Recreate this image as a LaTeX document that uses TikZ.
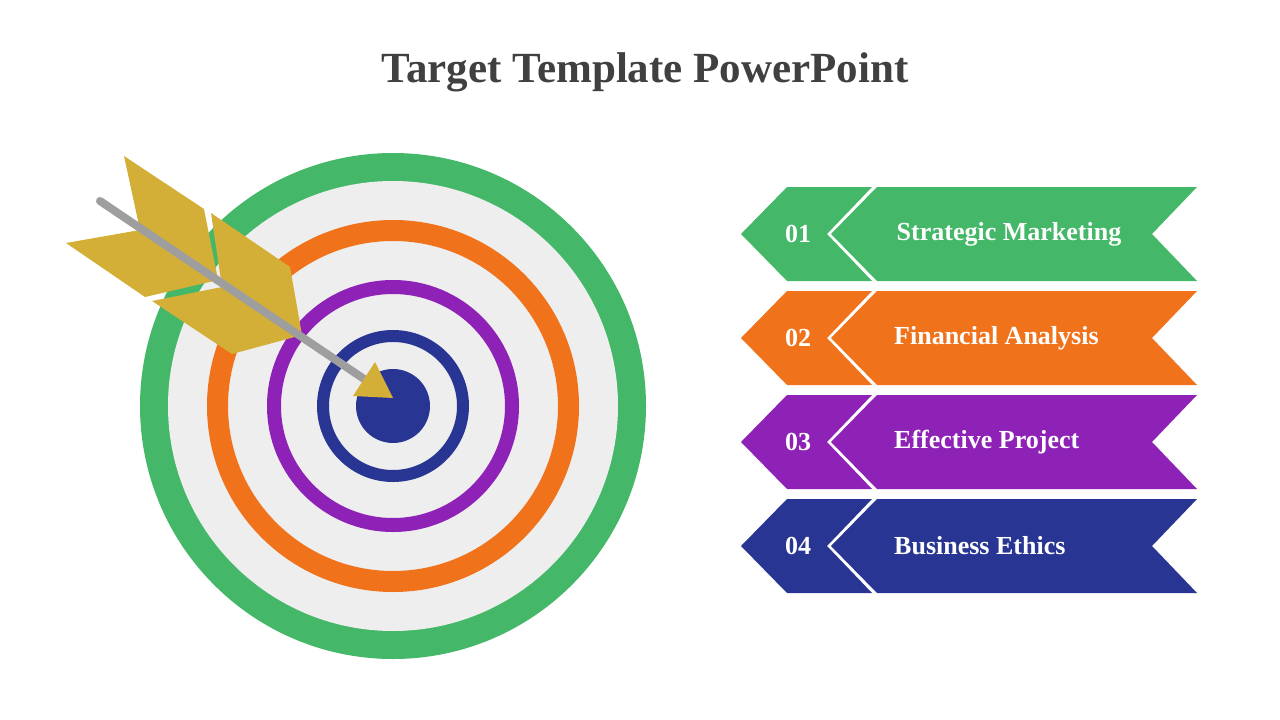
\documentclass[tikz,border=0pt]{standalone}
\usepackage{fontspec}
\setmainfont{Liberation Serif}
\definecolor{cgreen}{HTML}{44B868}
\definecolor{corange}{HTML}{F0731C}
\definecolor{cpurple}{HTML}{8E22B6}
\definecolor{cblue}{HTML}{283593}
\definecolor{cgold}{HTML}{D4AF37}
\definecolor{cring}{HTML}{EEEEEE}
\definecolor{cshaft}{HTML}{9E9E9E}
\definecolor{ctitle}{HTML}{404040}
\begin{document}
\begin{tikzpicture}[x=1pt,y=-1pt,
  numtxt/.style={text=white,font=\bfseries\fontsize{26}{30}\selectfont},
  lbltxt/.style={text=white,font=\bfseries\fontsize{26}{30}\selectfont}]
\useasboundingbox (0,0) rectangle (1280,720);
\node[text=ctitle,font=\bfseries\fontsize{43}{50}\selectfont] (title) at (645,72) {Target Template PowerPoint};
% target
\coordinate (c) at (393,406);
\fill[cgreen] (c) circle (253);
\fill[cring] (c) circle (225);
\draw[corange,line width=21] (c) circle (175.5);
\draw[cpurple,line width=14] (c) circle (119);
\draw[cblue,line width=12] (c) circle (70);
\fill[cblue] (c) circle (37);
% arrow feathers
\fill[cgold] (124,156) -- (204,209) -- (218,280) -- (145,297) -- (66,243) -- (140,230) -- cycle;
\fill[cgold] (211,213) -- (290,267) -- (302,335) -- (232,354) -- (152,301) -- (222,287) -- cycle;
\coordinate (s1) at (100,201);
\coordinate (s2) at (370,383);
\draw[cshaft,line width=8,line cap=round] (s1) -- (s2);
\fill[cgold] (375,362) -- (353,396) -- (393,398) -- cycle;
% banners
\foreach \i/\col/\num/\lbl/\tx/\anc in {0/cgreen/01/Strategic Marketing/1009/center,1/corange/02/Financial Analysis/894/west,2/cpurple/03/Effective Project/894/west,3/cblue/04/Business Ethics/894/west}{
  \pgfmathsetmacro{\t}{187+104*\i}
  \pgfmathsetmacro{\m}{\t+47}
  \pgfmathsetmacro{\b}{\t+94}
  \fill[\col] (787,\t) -- (872,\t) -- (827,\m) -- (872,\b) -- (787,\b) -- (741,\m) -- cycle;
  \fill[\col] (877,\t) -- (1197,\t) -- (1152,\m) -- (1197,\b) -- (877,\b) -- (831,\m) -- cycle;
  \node[numtxt] (n\i) at (798,\m) {\num};
  \node[lbltxt,anchor=\anc,inner sep=0] (l\i) at (\tx,\m) {\lbl};
}
\end{tikzpicture}
\end{document}
